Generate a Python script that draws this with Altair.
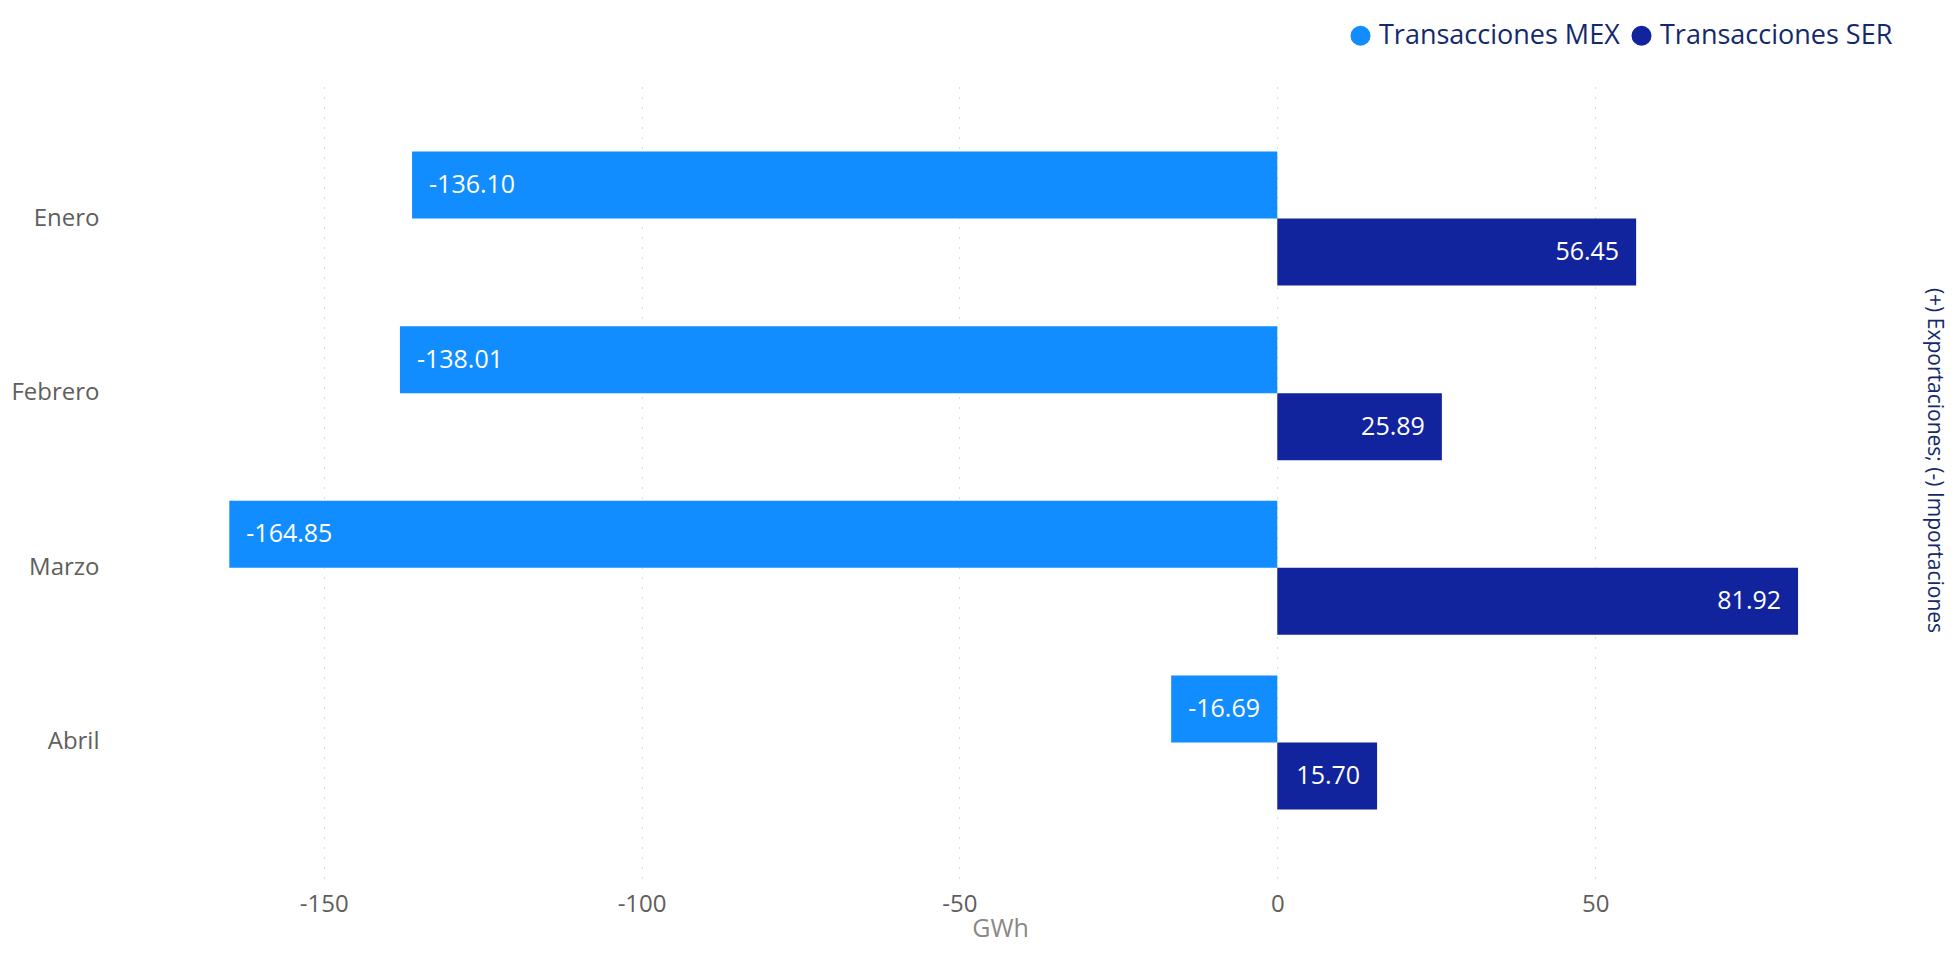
import altair as alt
import pandas as pd

months = ["Enero", "Febrero", "Marzo", "Abril"]
series = ["Transacciones MEX", "Transacciones SER"]
mex_values = [-136.10, -138.01, -164.85, -16.69]
ser_values = [56.45, 25.89, 81.92, 15.70]
colors = ["#118DFF", "#12239E"]
x_ticks = [-150, -100, -50, 0, 50]

rows = []
for m, v in zip(months, mex_values):
    rows.append({"mes": m, "serie": series[0], "valor": v})
for m, v in zip(months, ser_values):
    rows.append({"mes": m, "serie": series[1], "valor": v})
df = pd.DataFrame(rows)

FONT = "Open Sans"
NAVY = "#14296B"
GREY = "#605E5C"

yscale = alt.Scale(paddingInner=0.233, paddingOuter=0.393)
xscale = alt.Scale(domain=[-166, 86], nice=False, zero=False)

x_axis = alt.Axis(
    values=x_ticks, grid=True, gridDash=[1, 9], gridColor="#B8B6B4", gridWidth=1,
    domain=False, ticks=False, labelFontSize=24, labelColor=GREY, labelPadding=14,
    labelFont=FONT, labelExpr="replace(datum.label, '\u2212', '-')",
    title="GWh", titleFontSize=25, titleColor="#8A8886",
    titleFontWeight="normal", titleFont=FONT, titleX=778, titleY=58,
    titleBaseline="alphabetic", titleAlign="center",
)
y_axis_left = alt.Axis(
    domain=False, ticks=False, grid=False, labelFontSize=24, labelColor=GREY,
    labelPadding=123, labelFont=FONT, title=None,
)
y_axis_right = alt.Axis(
    orient="right", domain=False, ticks=False, grid=False, labels=False,
    title="(+) Exportaciones; (-) Importaciones", titleFontSize=21,
    titleColor=NAVY, titleFontWeight="normal", titleFont=FONT,
    titleAngle=90, titleX=109, titleY=377, titleAlign="center", titleBaseline="middle",
)

color = alt.Color(
    "serie:N", sort=series,
    scale=alt.Scale(domain=series, range=colors),
    legend=alt.Legend(
        orient="none", legendX=1125, legendY=-61, direction="horizontal",
        title=None, symbolType="circle", symbolSize=400, symbolStrokeWidth=0,
        labelFontSize=27, labelColor=NAVY, labelFont=FONT, labelOffset=5,
        labelLimit=0, columnPadding=8, padding=0,
    ),
)

yoff = alt.YOffset("serie:N", sort=series)
label_expr = "replace(format(datum.valor, '.2f'), '\u2212', '-')"

bars = alt.Chart(df).mark_bar().encode(
    y=alt.Y("mes:N", sort=months, scale=yscale, axis=y_axis_left),
    yOffset=yoff,
    x=alt.X("valor:Q", scale=xscale, axis=x_axis),
    color=color,
)

labels_mex = alt.Chart(df).transform_filter(
    alt.datum.serie == series[0]
).transform_calculate(lab=label_expr).mark_text(
    align="left", baseline="middle", dx=17, color="white", fontSize=25, font=FONT
).encode(
    y=alt.Y("mes:N", sort=months, scale=yscale, axis=None),
    yOffset=yoff,
    x=alt.X("valor:Q", scale=xscale, axis=x_axis),
    text=alt.Text("lab:N"),
)

labels_ser = alt.Chart(df).transform_filter(
    alt.datum.serie == series[1]
).transform_calculate(lab=label_expr).mark_text(
    align="right", baseline="middle", dx=-17, color="white", fontSize=25, font=FONT
).encode(
    y=alt.Y("mes:N", sort=months, scale=yscale, axis=None),
    yOffset=yoff,
    x=alt.X("valor:Q", scale=xscale, axis=x_axis),
    text=alt.Text("lab:N"),
)

right_axis = alt.Chart(df).mark_bar(opacity=0).encode(
    y=alt.Y("mes:N", sort=months, scale=yscale, axis=y_axis_right),
    x=alt.X("valor:Q", scale=xscale, axis=x_axis),
)

chart = alt.layer(bars, labels_mex, labels_ser, right_axis).resolve_axis(
    y="independent"
).properties(
    width=1602, height=795,
    autosize=alt.AutoSizeParams(type="none"),
    padding={"left": 214, "top": 75, "right": 124, "bottom": 66},
).configure(font=FONT).configure_view(stroke=None, strokeWidth=0)

chart.save("out.html", embed_options={"renderer": "svg", "actions": False})
